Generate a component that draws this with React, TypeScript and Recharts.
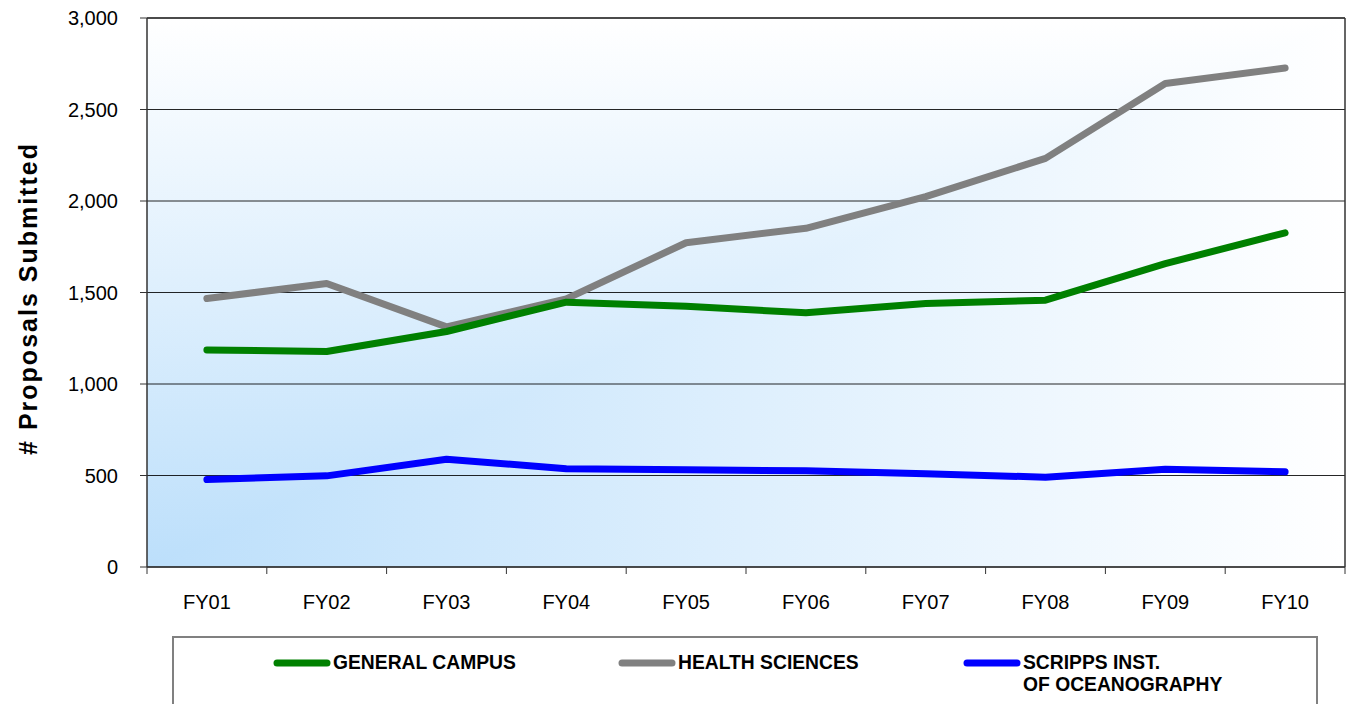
import React from "react";
import {
  LineChart,
  Line,
  XAxis,
  YAxis,
  CartesianGrid,
  ReferenceLine,
  Legend,
  Label,
} from "recharts";

const years = ["FY01", "FY02", "FY03", "FY04", "FY05", "FY06", "FY07", "FY08", "FY09", "FY10"];
const generalCampus = [1186, 1178, 1287, 1447, 1425, 1389, 1440, 1458, 1658, 1826];
const healthSciences = [1467, 1549, 1312, 1465, 1772, 1851, 2024, 2233, 2642, 2727];
const scripps = [478, 498, 589, 537, 531, 526, 509, 491, 534, 520];
const yTicks = [0, 500, 1000, 1500, 2000, 2500, 3000];

const W = 1350;
const H = 704;
const LEFT = 147;
const RIGHT = 5;
const BAND = (W - LEFT - RIGHT) / years.length;
const FONT = "Arial, 'Liberation Sans', sans-serif";

// x is a band index; points sit in the middle of each band
const data = years.map((fy, i) => ({
  x: i + 0.5,
  fy,
  general: generalCampus[i],
  health: healthSciences[i],
  scripps: scripps[i],
}));

const edgeTicks = years.map((_, i) => i).concat(years.length);

function YearTick(props: any) {
  const { x, y, payload } = props;
  const label = years[payload.value];
  if (!label) return null;
  return (
    <text x={x + BAND / 2} y={y + 33} textAnchor="middle" fontSize={20} fontFamily={FONT} fill="#000">
      {label}
    </text>
  );
}

function YTitle(props: any) {
  const { viewBox } = props;
  const cy = viewBox.y + viewBox.height / 2 + 6;
  return (
    <text
      x={28}
      y={cy}
      transform={`rotate(-90, 28, ${cy})`}
      textAnchor="middle"
      dominantBaseline="central"
      fontSize={25}
      letterSpacing={2}
      fontWeight="bold"
      fontFamily={FONT}
      fill="#000"
    >
      # Proposals Submitted
    </text>
  );
}

const legendItems = [
  { label: ["GENERAL CAMPUS"], color: "#008000" },
  { label: ["HEALTH SCIENCES"], color: "#808080" },
  { label: ["SCRIPPS INST.", "OF OCEANOGRAPHY"], color: "#0000ff" },
];

function LegendBox() {
  return (
    <div
      style={{
        boxSizing: "border-box",
        width: 1146,
        height: 68,
        borderTop: "2px solid #808080",
        borderLeft: "2px solid #808080",
        borderRight: "2px solid #808080",
        background: "#fff",
        paddingTop: 14,
        paddingLeft: 99,
        display: "flex",
        fontFamily: FONT,
      }}
    >
      {legendItems.map((it) => (
        <div key={it.color} style={{ width: 345, display: "flex", alignItems: "flex-start" }}>
          <svg width={58} height={10} style={{ marginTop: 6, flex: "none" }}>
            <line x1={4} y1={5} x2={54} y2={5} stroke={it.color} strokeWidth={7} strokeLinecap="round" />
          </svg>
          <div style={{ fontSize: 19.3, fontWeight: "bold", lineHeight: "22px", color: "#000", marginLeft: 2 }}>
            {it.label.map((l) => (
              <div key={l}>{l}</div>
            ))}
          </div>
        </div>
      ))}
    </div>
  );
}

export default function App() {
  return (
    <div style={{ position: "absolute", left: 0, top: 0, background: "#fff" }}>
      <LineChart width={W} height={H} data={data} margin={{ top: 18, right: RIGHT, left: 0, bottom: 0 }}>
        <defs>
          <linearGradient id="bgV" x1="0" y1="1" x2="0" y2="0">
            <stop offset="0" stopColor="#bcdffb" />
            <stop offset="1" stopColor="#ffffff" />
          </linearGradient>
          <linearGradient id="bgH" x1="0" y1="0" x2="1" y2="0">
            <stop offset="0" stopColor="#bcdffb" />
            <stop offset="1" stopColor="#ffffff" />
          </linearGradient>
          <pattern id="bgCorner" patternUnits="objectBoundingBox" patternContentUnits="objectBoundingBox" width="1" height="1">
            <rect x="0" y="0" width="1" height="1" fill="url(#bgV)" />
            <rect x="0" y="0" width="1" height="1" fill="url(#bgH)" style={{ mixBlendMode: "lighten" }} />
          </pattern>
        </defs>
        <CartesianGrid vertical={false} stroke="#000" strokeOpacity={0.85} fill="url(#bgCorner)" fillOpacity={1} />
        <XAxis
          dataKey="x"
          type="number"
          domain={[0, years.length]}
          ticks={edgeTicks}
          interval={0}
          height={69}
          tickSize={7}
          tick={<YearTick />}
          stroke="#333"
          axisLine={{ stroke: "#333", strokeWidth: 1.5 }}
        />
        <YAxis
          domain={[0, 3000]}
          ticks={yTicks}
          width={LEFT}
          tickSize={7}
          tickMargin={22}
          tickFormatter={(v: number) => v.toLocaleString("en-US")}
          tick={{ fontSize: 20, fontFamily: FONT, fill: "#000" }}
          stroke="#333"
          axisLine={{ stroke: "#333", strokeWidth: 1.5 }}
        >
          <Label content={<YTitle />} />
        </YAxis>
        <ReferenceLine x={years.length} stroke="#333" strokeWidth={1.5} />
        <ReferenceLine y={3000} stroke="#333" strokeWidth={1.5} />
        <Line dataKey="health" name="HEALTH SCIENCES" stroke="#808080" strokeWidth={7} strokeLinecap="round" strokeLinejoin="round" dot={false} isAnimationActive={false} />
        <Line dataKey="general" name="GENERAL CAMPUS" stroke="#008000" strokeWidth={7} strokeLinecap="round" strokeLinejoin="round" dot={false} isAnimationActive={false} />
        <Line dataKey="scripps" name="SCRIPPS INST. OF OCEANOGRAPHY" stroke="#0000ff" strokeWidth={7} strokeLinecap="round" strokeLinejoin="round" dot={false} isAnimationActive={false} />
        <Legend
          verticalAlign="bottom"
          content={<LegendBox />}
          wrapperStyle={{ position: "absolute", left: 172, top: 636, width: 1146, height: 68, bottom: "auto" }}
        />
      </LineChart>
    </div>
  );
}
